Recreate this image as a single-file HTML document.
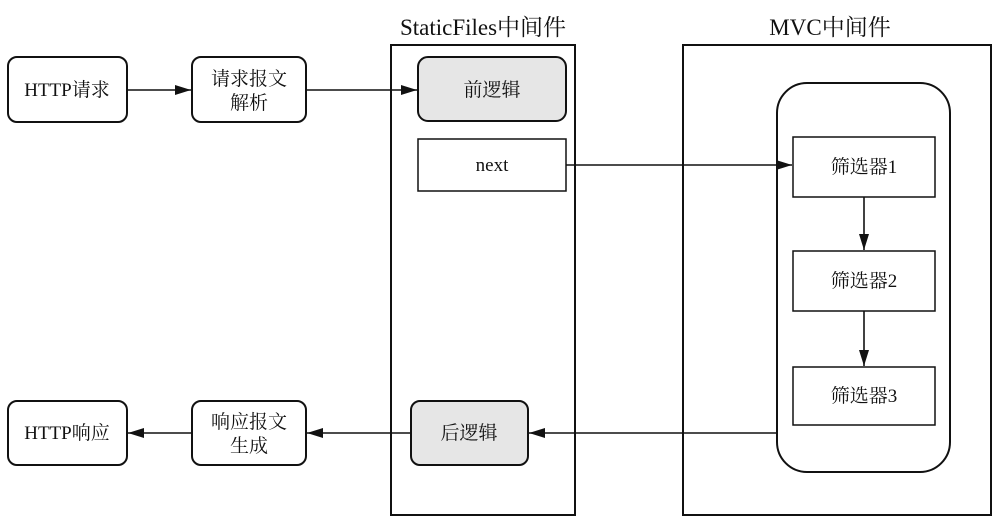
<!DOCTYPE html>
<html><head><meta charset="utf-8"><style>
body{margin:0;background:#fff;}
svg text{font-family:"Liberation Serif","Noto Serif CJK SC",serif;fill:#111;}
</style></head><body>
<svg width="997" height="522" viewBox="0 0 997 522" xmlns="http://www.w3.org/2000/svg">
<defs><marker id="a" markerWidth="16" markerHeight="10" refX="16" refY="5" orient="auto" markerUnits="userSpaceOnUse"><path d="M0,0 L16,5 L0,10 z" fill="#111"/></marker></defs>
<g stroke="#111" stroke-width="2" fill="none">
<rect x="391" y="45" width="184" height="470"/>
<rect x="683" y="45" width="308" height="470"/>
<rect x="777" y="83" width="173" height="389" rx="30"/>
</g>
<g stroke="#111" stroke-width="2">
<rect x="8" y="57" width="119" height="65" rx="9" fill="#fff"/>
<rect x="192" y="57" width="114" height="65" rx="9" fill="#fff"/>
<rect x="418" y="57" width="148" height="64" rx="10" fill="#e6e6e6"/>
<rect x="418" y="139" width="148" height="52" fill="#fff" stroke-width="1.5"/>
<rect x="411" y="401" width="117" height="64" rx="9" fill="#e6e6e6"/>
<rect x="8" y="401" width="119" height="64" rx="9" fill="#fff"/>
<rect x="192" y="401" width="114" height="64" rx="9" fill="#fff"/>
<rect x="793" y="137" width="142" height="60" fill="#fff" stroke-width="1.5"/>
<rect x="793" y="251" width="142" height="60" fill="#fff" stroke-width="1.5"/>
<rect x="793" y="367" width="142" height="58" fill="#fff" stroke-width="1.5"/>
</g>
<g stroke="#111" stroke-width="1.6" marker-end="url(#a)">
<line x1="127" y1="90" x2="191" y2="90"/>
<line x1="306" y1="90" x2="417" y2="90"/>
<line x1="566" y1="165" x2="792" y2="165"/>
<line x1="864" y1="197" x2="864" y2="250"/>
<line x1="864" y1="311" x2="864" y2="366"/>
<line x1="777" y1="433" x2="529" y2="433"/>
<line x1="411" y1="433" x2="307" y2="433"/>
<line x1="192" y1="433" x2="128" y2="433"/>
</g>
<g font-size="19" text-anchor="middle">
<text x="483" y="35" font-size="23">StaticFiles中间件</text>
<text x="830" y="35" font-size="23">MVC中间件</text>
<text x="67" y="96">HTTP请求</text>
<text x="249" y="85">请求报文</text>
<text x="249" y="109">解析</text>
<text x="492" y="96">前逻辑</text>
<text x="492" y="171">next</text>
<text x="864" y="173">筛选器1</text>
<text x="864" y="287">筛选器2</text>
<text x="864" y="402">筛选器3</text>
<text x="469" y="439">后逻辑</text>
<text x="67" y="439">HTTP响应</text>
<text x="249" y="428">响应报文</text>
<text x="249" y="452">生成</text>
</g>
</svg>
</body></html>
